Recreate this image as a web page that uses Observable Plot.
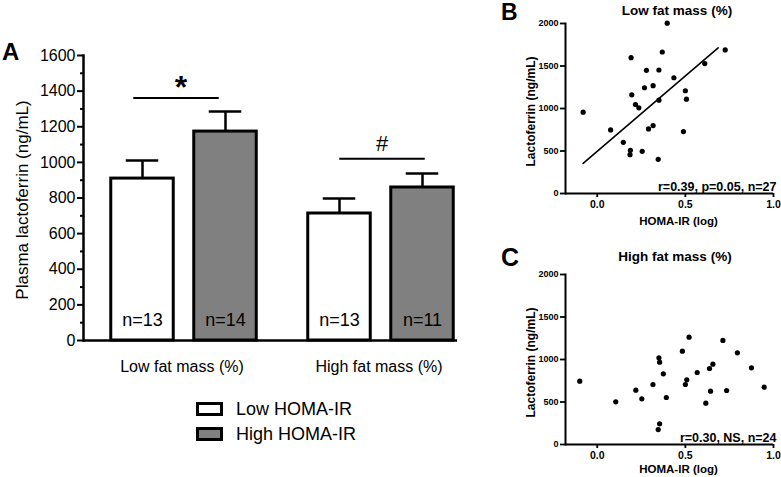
<!DOCTYPE html>
<html>
<head>
<meta charset="utf-8">
<script src="https://cdn.jsdelivr.net/npm/d3@7"></script>
<script src="https://cdn.jsdelivr.net/npm/@observablehq/plot@0.6"></script>
<style>
  html, body { margin: 0; padding: 0; background: #fff; overflow: hidden; }
  #root { position: relative; width: 781px; height: 477px; font-family: 'Liberation Sans', Arial, sans-serif; color: #000; }
  .abs { position: absolute; white-space: nowrap; }
  .panel { position: absolute; }
  .panel svg { overflow: visible; }
  .letter { font-weight: bold; }
  .swatch { position: absolute; box-sizing: border-box; width: 27px; height: 14px; border: 3px solid #000; }
</style>
</head>
<body>
<div id="root">
  <div id="panelA" class="panel" style="left:0px;top:0px"></div>
  <div id="panelB" class="panel" style="left:500px;top:0px"></div>
  <div id="panelC" class="panel" style="left:500px;top:240px"></div>
  <div class="abs letter" style="left:2px;top:40px;font-size:24px;line-height:24px">A</div>
  <div class="abs letter" style="left:501px;top:1px;font-size:23px;line-height:23px">B</div>
  <div class="abs letter" style="left:501px;top:245px;font-size:25px;line-height:25px">C</div>
  <div id="titleB" class="abs" style="left:577px;top:4px;width:200px;text-align:center;font-weight:bold;font-size:13.5px;line-height:14px"></div>
  <div id="titleC" class="abs" style="left:575px;top:250px;width:200px;text-align:center;font-weight:bold;font-size:13.5px;line-height:14px"></div>
  <div id="legend"></div>
</div>
<script>
// ---------- Panel A data ----------
const fatGroups = ["Low fat mass (%)", "High fat mass (%)"];
const homaGroups = ["Low HOMA-IR", "High HOMA-IR"];
const homaFills = ["#ffffff", "#808080"];
const lowHomaMean = [909, 713];
const lowHomaSem = [101, 84];
const lowHomaN = [13, 13];
const highHomaMean = [1173, 859];
const highHomaSem = [113, 78];
const highHomaN = [14, 11];
const sigLevel = [1362, 1021];
const sigSymbol = ["*", "#"];
const yTicksA = [0, 200, 400, 600, 800, 1000, 1200, 1400, 1600];
const yMinorTicksA = [100, 300, 500, 700, 900, 1100, 1300, 1500];

// ---------- Panel B data (low fat mass) ----------
const titleB = "Low fat mass (%)";
const lowFatHoma = [-0.08, 0.076, 0.148, 0.186, 0.188, 0.192, 0.196, 0.217, 0.236, 0.255, 0.268, 0.279, 0.291, 0.317, 0.317, 0.346, 0.35, 0.35, 0.369, 0.397, 0.435, 0.489, 0.5, 0.506, 0.61, 0.726];
const lowFatLf = [957, 748, 602, 457, 508, 1598, 1161, 1047, 1008, 496, 1244, 1449, 760, 799, 1268, 402, 1453, 1098, 1665, 2004, 1362, 728, 1209, 1110, 1528, 1689];
const lowFitHoma = [-0.08, 0.686];
const lowFitLf = [354, 1713];
const statsB = "r=0.39, p=0.05, n=27";

// ---------- Panel C data (high fat mass) ----------
const titleC = "High fat mass (%)";
const highFatHoma = [-0.099, 0.105, 0.219, 0.253, 0.316, 0.346, 0.354, 0.35, 0.354, 0.375, 0.392, 0.483, 0.5, 0.508, 0.521, 0.567, 0.616, 0.637, 0.643, 0.656, 0.713, 0.734, 0.795, 0.875, 0.947];
const highFatLf = [745, 502, 639, 537, 706, 176, 243, 1020, 969, 831, 553, 1098, 706, 761, 1263, 847, 486, 894, 627, 945, 1224, 635, 1078, 902, 675];
const statsC = "r=0.30, NS, n=24";

const scatterYTicks = [0, 500, 1000, 1500, 2000];
const scatterXTicks = [0, 0.5, 1.0];
const FONT = "'Liberation Sans', Arial, sans-serif";

// ---------- Panel A ----------
const seriesMeans = [lowHomaMean, highHomaMean];
const seriesSems = [lowHomaSem, highHomaSem];
const seriesNs = [lowHomaN, highHomaN];
const rowsBySeries = homaGroups.map((h, si) =>
  fatGroups.map((g, gi) => ({group: g, homa: h, mean: seriesMeans[si][gi], sem: seriesSems[si][gi], n: seriesNs[si][gi]}))
);
const sigRows = fatGroups.map((g, gi) => ({group: g, level: sigLevel[gi], symbol: sigSymbol[gi]}));

const barMarks = [];
rowsBySeries.forEach((rows, si) => {
  const off = (si - 0.5) * 83;
  barMarks.push(
    Plot.ruleX(rows, {x: "group", y1: "mean", y2: d => d.mean + d.sem, dx: off, stroke: "#000", strokeWidth: 2.5}),
    Plot.tickY(rows, {x: "group", y: d => d.mean + d.sem, dx: off, insetLeft: 82.25, insetRight: 82.25, stroke: "#000", strokeWidth: 2.5}),
    Plot.barY(rows, {x: "group", y: "mean", dx: off, insetLeft: 67.25, insetRight: 67.25, fill: homaFills[si], stroke: "#000", strokeWidth: 3}),
    Plot.text(rows, {x: "group", y: 0, text: d => "n=" + d.n, dx: off, dy: -20, fontSize: 18, fill: "#000"})
  );
});
const sigOffsets = [-7.5, 1.5];
const sigMarks = [];
sigRows.forEach((row, gi) => {
  sigMarks.push(
    Plot.tickY([row], {x: "group", y: "level", insetLeft: 55.75, insetRight: 55.75, dx: sigOffsets[gi], stroke: "#000", strokeWidth: 2}),
    Plot.text([row], {x: "group", y: "level", text: "symbol", lineAnchor: "bottom",
      dx: gi === 0 ? -3 : 1, dy: gi === 0 ? 0 : -8,
      fontSize: gi === 0 ? 32 : 22, fontWeight: gi === 0 ? "bold" : "normal", fill: "#000"})
  );
});

const plotA = Plot.plot({
  width: 470, height: 380,
  marginLeft: 83, marginRight: 13, marginTop: 55, marginBottom: 40,
  style: {fontFamily: FONT, background: "none", overflow: "visible"},
  x: {domain: fatGroups, range: [84.25, 479.25], padding: 0, axis: null},
  y: {domain: [0, 1600]},
  marks: [
    Plot.axisY({ticks: yTicksA, tickFormat: d3.format("d"), tickSize: 6, tickPadding: 2, fontSize: 16, label: null, strokeWidth: 2, fill: "#000"}),
    Plot.axisY({ticks: yMinorTicksA, tickSize: 3, tickFormat: () => "", label: null, strokeWidth: 2}),
    ...barMarks,
    ...sigMarks,
    Plot.text(fatGroups, {x: d => d, frameAnchor: "bottom", lineAnchor: "middle", dy: 26, dx: -2, fontSize: 16, fill: "#000"}),
    Plot.text(["Plasma lactoferrin (ng/mL)"], {frameAnchor: "left", textAnchor: "middle", lineAnchor: "middle", rotate: -90, dx: -61, dy: 2, fontSize: 17, fill: "#000"}),
    Plot.ruleY([0], {stroke: "#000", strokeWidth: 2.5}),
    Plot.frame({anchor: "left", stroke: "#000", strokeWidth: 2.5})
  ]
});
document.getElementById("panelA").appendChild(plotA);

// ---------- Scatter panels ----------
function scatter(xs, ys, fitX, fitY, stats, dims) {
  const pts = xs.map((x, i) => ({x, y: ys[i]}));
  const fit = fitX ? fitX.map((x, i) => ({x, y: fitY[i]})) : [];
  return Plot.plot({
    width: 281, height: dims.height,
    marginLeft: 65, marginRight: 8, marginTop: dims.top, marginBottom: dims.bottom,
    style: {fontFamily: FONT, background: "none", overflow: "visible"},
    x: {domain: [-0.18, 1.0]},
    y: {domain: [0, 2000]},
    marks: [
      Plot.axisY({ticks: scatterYTicks, tickFormat: d3.format("d"), tickSize: 5, tickPadding: 2, fontSize: 9, fontWeight: "bold", label: null, strokeWidth: 1.8, fill: "#000"}),
      Plot.axisX({ticks: scatterXTicks, tickFormat: d3.format(".1f"), tickSize: 4, tickPadding: 3, fontSize: 10.5, fontWeight: "bold", label: null, strokeWidth: 1.8, fill: "#000"}),
      Plot.line(fit, {x: "x", y: "y", stroke: "#000", strokeWidth: 1.6}),
      Plot.dot(pts, {x: "x", y: "y", r: 2.6, fill: "#000"}),
      Plot.text([stats], {frameAnchor: "bottom-right", textAnchor: "end", lineAnchor: "bottom", dx: 3, dy: -3, fontSize: 12.5, fontWeight: "bold", fill: "#000"}),
      Plot.text(["HOMA-IR (log)"], {frameAnchor: "bottom", textAnchor: "middle", lineAnchor: "middle", dx: 9, dy: dims.labelDy, fontSize: 11.5, fontWeight: "bold", fill: "#000"}),
      Plot.text(["Lactoferrin (ng/mL)"], {frameAnchor: "left", textAnchor: "middle", lineAnchor: "middle", rotate: -90, dx: -34, dy: 3, fontSize: 12, fontWeight: "bold", fill: "#000"}),
      Plot.ruleY([0], {stroke: "#000", strokeWidth: 2}),
      Plot.frame({anchor: "left", stroke: "#000", strokeWidth: 2})
    ]
  });
}
document.getElementById("panelB").appendChild(scatter(lowFatHoma, lowFatLf, lowFitHoma, lowFitLf, statsB, {height: 232, top: 23, bottom: 39, labelDy: 28}));
document.getElementById("panelC").appendChild(scatter(highFatHoma, highFatLf, null, null, statsC, {height: 237, top: 34, bottom: 33, labelDy: 25}));
document.getElementById("titleB").textContent = titleB;
document.getElementById("titleC").textContent = titleC;

// ---------- Legend ----------
const legend = document.getElementById("legend");
homaGroups.forEach((h, i) => {
  const sw = document.createElement("div");
  sw.className = "swatch";
  sw.style.left = "196px";
  sw.style.top = (402 + i * 25) + "px";
  sw.style.background = homaFills[i];
  legend.appendChild(sw);
  const t = document.createElement("div");
  t.className = "abs";
  t.style.left = "236px";
  t.style.top = (400 + i * 25) + "px";
  t.style.fontSize = "18px";
  t.style.lineHeight = "18px";
  t.textContent = h;
  legend.appendChild(t);
});
</script>
</body>
</html>
